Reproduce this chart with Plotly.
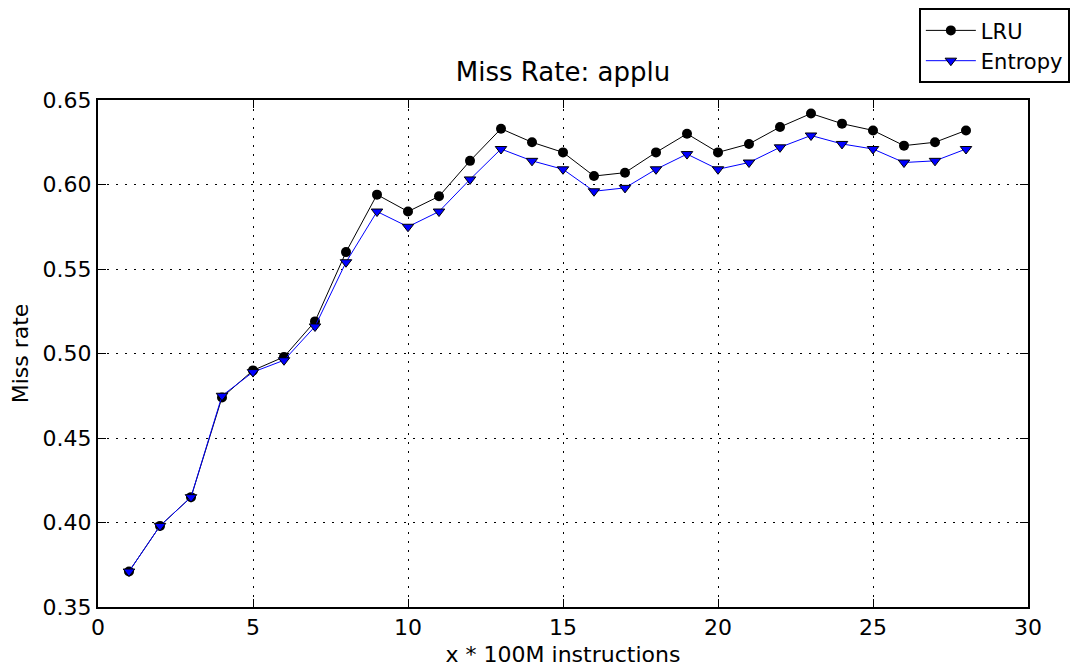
import plotly.graph_objects as go

x_vals = list(range(1, 29))
lru = [0.371, 0.398, 0.415, 0.474, 0.490, 0.498, 0.519, 0.560, 0.594, 0.584,
       0.593, 0.614, 0.633, 0.625, 0.619, 0.605, 0.607, 0.619, 0.630, 0.619,
       0.624, 0.634, 0.642, 0.636, 0.632, 0.623, 0.625, 0.632]
entropy = [0.371, 0.398, 0.415, 0.475, 0.489, 0.496, 0.516, 0.554, 0.584, 0.575,
           0.584, 0.603, 0.621, 0.614, 0.609, 0.596, 0.598, 0.609, 0.618, 0.609,
           0.613, 0.622, 0.629, 0.624, 0.621, 0.613, 0.614, 0.621]
x_ticks = [0, 5, 10, 15, 20, 25, 30]
y_ticks = [0.35, 0.40, 0.45, 0.50, 0.55, 0.60, 0.65]

fig = go.Figure()
fig.add_trace(go.Scatter(x=x_vals, y=lru, name="LRU", mode="lines+markers",
                         line=dict(color="black", width=1),
                         marker=dict(symbol="circle", size=10, color="black")))
fig.add_trace(go.Scatter(x=x_vals, y=entropy, name="Entropy", mode="lines+markers",
                         line=dict(color="blue", width=1),
                         marker=dict(symbol="triangle-down", size=10, color="blue",
                                     line=dict(color="black", width=1))))

axis_common = dict(showline=True, linecolor="black", linewidth=2, mirror="allticks",
                   ticks="inside", ticklen=8, tickcolor="black", tickwidth=1,
                   showgrid=True, gridcolor="black", gridwidth=1, griddash="2px,7px",
                   zeroline=False, tickfont=dict(size=22, color="black"))

fig.update_layout(
    width=1073, height=668,
    margin=dict(l=98, r=45, t=100, b=61, autoexpand=False),
    paper_bgcolor="white", plot_bgcolor="white",
    font=dict(family="DejaVu Sans", color="black"),
    title=dict(text="Miss Rate: applu", x=(98 + 930 / 2) / 1073, xanchor="center",
               y=1 - 72 / 668, yanchor="middle", font=dict(size=26)),
    xaxis=dict(range=[0, 30], tickvals=x_ticks, ticktext=[str(t) for t in x_ticks],
               title=dict(text="x * 100M instructions", font=dict(size=22), standoff=7),
               **axis_common),
    yaxis=dict(range=[0.35, 0.65], tickvals=y_ticks, ticktext=[f"{t:.2f}" for t in y_ticks],
               title=dict(text="Miss rate", font=dict(size=22), standoff=8),
               **axis_common),
    legend=dict(x=1.045, xanchor="right", y=1.181, yanchor="top",
                bordercolor="black", borderwidth=2, bgcolor="white",
                font=dict(size=21), itemwidth=50, tracegroupgap=0),
    showlegend=True,
)

fig.write_html("out.html")
